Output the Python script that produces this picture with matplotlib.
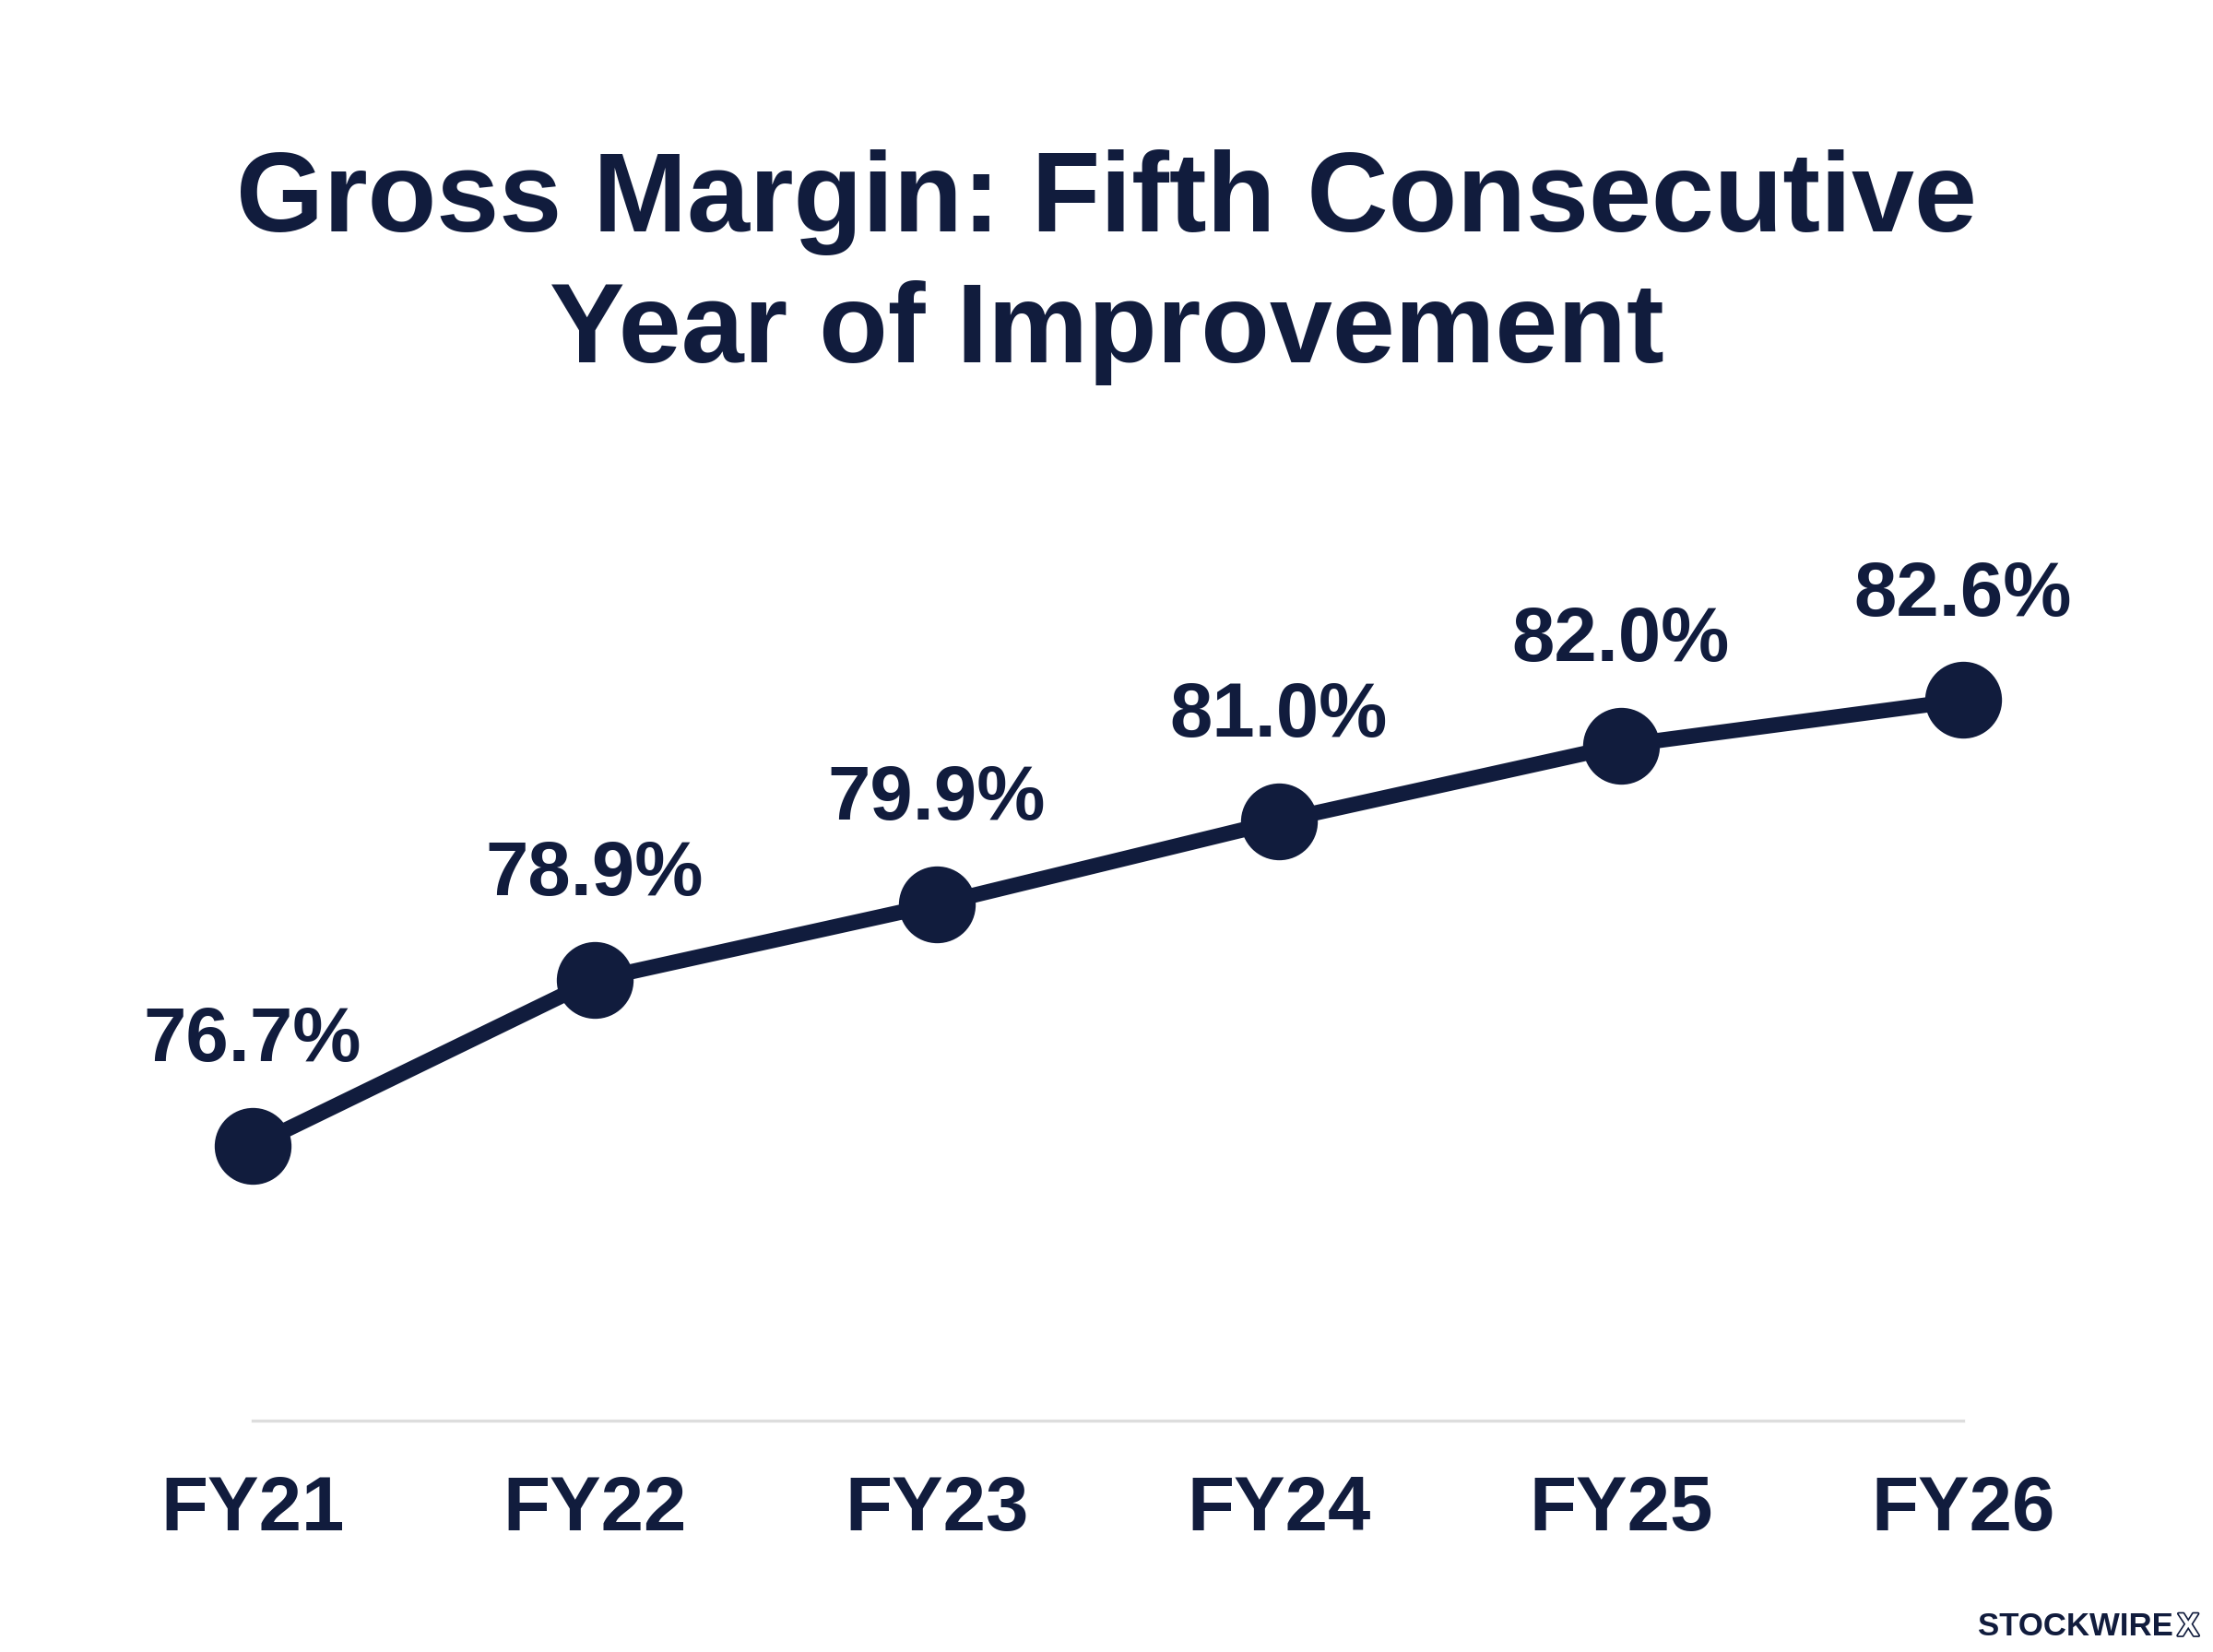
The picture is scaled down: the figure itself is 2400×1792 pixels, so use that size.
import matplotlib
matplotlib.use('Agg')
import matplotlib.pyplot as plt
import matplotlib.patheffects as pe

years = ['FY21', 'FY22', 'FY23', 'FY24', 'FY25', 'FY26']
margin = [76.7, 78.9, 79.9, 81.0, 82.0, 82.6]
labels = ['76.7%', '78.9%', '79.9%', '81.0%', '82.0%', '82.6%']

navy = '#111c3d'
plt.rcParams['font.family'] = ['Liberation Sans', 'DejaVu Sans']

fig = plt.figure(figsize=(12, 8.96), dpi=200)
fig.patch.set_facecolor('white')
ax = fig.add_axes([0.114, 0.140, 0.773, 0.525])

x = list(range(len(years)))
ax.plot(x, margin, color=navy, linewidth=6, marker='o', markersize=29,
        clip_on=False, zorder=3, solid_capstyle='round')

for xi, yi, lab in zip(x, margin, labels):
    ax.annotate(lab, (xi, yi), xytext=(0, 41), textcoords='offset points',
                ha='center', va='center', fontsize=30, fontweight='bold',
                color=navy)

ax.set_xlim(0, 5)
ax.set_ylim(73.07, 84.54)
ax.set_yticks([])
ax.set_xticks(x)
ax.set_xticklabels(years, fontsize=30, fontweight='bold', color=navy)
ax.tick_params(axis='x', length=0, pad=21)
for s in ['top', 'right', 'left']:
    ax.spines[s].set_visible(False)
ax.spines['bottom'].set_color('#dddddd')
ax.spines['bottom'].set_linewidth(1.2)

fig.text(0.5, 0.838, 'Gross Margin: Fifth Consecutive\nYear of Improvement',
         ha='center', va='center', fontsize=44, fontweight='bold',
         color=navy, linespacing=1.3)

fig.text(0.982, 0.006, 'STOCKWIRE', ha='right', va='bottom', fontsize=12.5,
         fontweight='bold', color=navy)
fig.text(0.984, 0.006, 'X', ha='left', va='bottom', fontsize=12.5,
         fontweight='bold', color='white',
         path_effects=[pe.withStroke(linewidth=1.2, foreground=navy)])

fig.savefig('out.png', dpi=200, facecolor='white')
